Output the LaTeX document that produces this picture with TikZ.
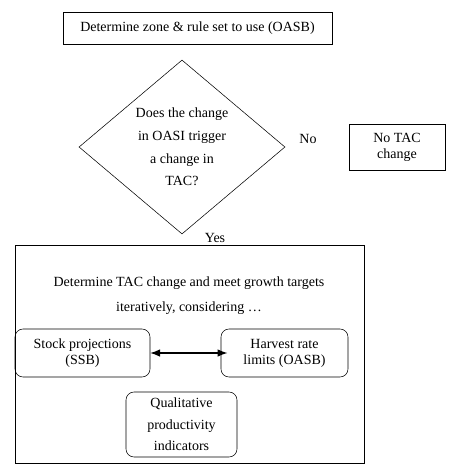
\documentclass[tikz,border=0pt]{standalone}
\usepackage{fontspec}
\setmainfont{Liberation Serif}
\usetikzlibrary{arrows.meta, shapes.geometric}

\begin{document}
\begin{tikzpicture}[
    x=0.75pt,
    y=-0.75pt,
    font={\fontsize{10.5}{12}\selectfont},
    step box/.style={
        rectangle,
        draw=black,
        align=center,
        inner sep=0pt
    },
    choice box/.style={
        rectangle,
        rounded corners=6pt,
        draw=black,
        align=center,
        inner sep=0pt
    },
    question/.style={
        diamond,
        draw=black,
        align=center,
        aspect=1.18,
        inner sep=0pt,
        minimum width=154.5pt,
        minimum height=130.5pt,
        font={\fontsize{10.5}{17}\selectfont}
    },
    arrow/.style={{Latex[length=2.6mm, width=2mm]}-{Latex[length=2.6mm, width=2mm]}, thick}
]
\useasboundingbox (0,0) rectangle (450,472);

\node[step box, minimum width=201.75pt, minimum height=24pt] (zone) at (197.5,28) {Determine zone \& rule set to use (OASB)};

\node[question] (trigger) at (182,147) {Does the change\\in OASI trigger\\a change in\\TAC?};

\node (no) at (308,139) {No};
\node[step box, minimum width=72pt, minimum height=34.5pt] (notac) at (397,147) {No TAC\\change};

\node (yes) at (215,238) {Yes};

\node[step box, minimum width=261.75pt, minimum height=163.5pt] (tacbox) at (189.5,354) {};
\node[align=center, font={\fontsize{10.5}{18.75}\selectfont}] (tactext) at (189,295.5) {Determine TAC change and meet growth targets\\iteratively, considering \dots};

\node[choice box, minimum width=101.25pt, minimum height=36pt] (stock) at (82.5,353) {Stock projections\\(SSB)};
\node[choice box, minimum width=95.25pt, minimum height=36pt] (harvest) at (284.5,353) {Harvest rate\\limits (OASB)};
\node[choice box, minimum width=83.25pt, minimum height=48.75pt, font={\fontsize{10.5}{16}\selectfont}] (quality) at (181.5,424.5) {Qualitative\\productivity\\indicators};

\draw[arrow, shorten >=-5pt] (stock) -- (harvest);

\end{tikzpicture}
\end{document}
